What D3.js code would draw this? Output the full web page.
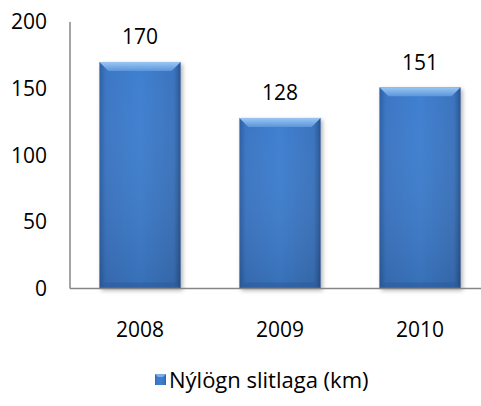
<!DOCTYPE html>
<html>
<head>
<meta charset="utf-8">
<script src="https://cdn.jsdelivr.net/npm/d3@7"></script>
<style>
  body { margin: 0; background: #fff; }
  text { font-family: "Open Sans", Lato, sans-serif; fill: #000; }
</style>
</head>
<body>
<div id="graph"></div>
<script>
var years = ['2008', '2009', '2010']
var values = [170, 128, 151]
var yTicks = [0, 50, 100, 150, 200]
var seriesName = 'Nýlögn slitlaga (km)'

var W = 481, H = 406
var svg = d3.select('#graph').append('svg')
    .attr('width', W).attr('height', H)

var x = d3.scaleBand().domain(years).range([70, 490])
    .paddingInner(0.42).paddingOuter(0.21)
var y = d3.scaleLinear().domain([0, 200]).range([288.5, 22])

var defs = svg.append('defs')
var g1 = defs.append('linearGradient').attr('id', 'barGrad')
    .attr('x1', 0).attr('x2', 1).attr('y1', 0).attr('y2', 0)
g1.append('stop').attr('offset', '0%').attr('stop-color', '#2c5ea3')
g1.append('stop').attr('offset', '8%').attr('stop-color', '#3b76c4')
g1.append('stop').attr('offset', '50%').attr('stop-color', '#3f7fd0')
g1.append('stop').attr('offset', '92%').attr('stop-color', '#3a73bd')
g1.append('stop').attr('offset', '100%').attr('stop-color', '#285391')

var g2 = defs.append('linearGradient').attr('id', 'vGrad')
    .attr('x1', 0).attr('x2', 0).attr('y1', 0).attr('y2', 1)
g2.append('stop').attr('offset', '0%').attr('stop-color', '#fff').attr('stop-opacity', 0)
g2.append('stop').attr('offset', '100%').attr('stop-color', '#000').attr('stop-opacity', 0.12)

var g3 = defs.append('linearGradient').attr('id', 'topGrad')
    .attr('x1', 0).attr('x2', 0).attr('y1', 0).attr('y2', 1)
g3.append('stop').attr('offset', '0%').attr('stop-color', '#9cc6f2')
g3.append('stop').attr('offset', '100%').attr('stop-color', '#5a96dc')

var sh = defs.append('filter').attr('id', 'shadow')
    .attr('x', '-20%').attr('y', '-10%').attr('width', '140%').attr('height', '120%')
sh.append('feDropShadow').attr('dx', 2).attr('dy', 2).attr('stdDeviation', 2)
    .attr('flood-color', '#000').attr('flood-opacity', 0.3)

// axes
svg.append('line')
    .attr('x1', 70).attr('x2', 70).attr('y1', y(200)).attr('y2', y(0))
    .attr('stroke', '#868686').attr('stroke-width', 1.5)

svg.selectAll('text.ytick').data(yTicks).enter().append('text')
    .attr('class', 'ytick')
    .attr('x', 47).attr('y', function(d){ return y(d) })
    .attr('dy', '.35em').attr('text-anchor', 'end')
    .style('font-size', '21px')
    .text(function(d){ return d })

// bars
var bars = svg.selectAll('g.bar').data(values).enter().append('g')
    .attr('class', 'bar')

bars.append('rect')
    .attr('x', function(d, i){ return x(years[i]) })
    .attr('y', function(d){ return y(d) })
    .attr('width', x.bandwidth())
    .attr('height', function(d){ return y(0) - y(d) })
    .attr('fill', 'url(#barGrad)')
    .attr('filter', 'url(#shadow)')

bars.append('rect')
    .attr('x', function(d, i){ return x(years[i]) })
    .attr('y', function(d){ return y(d) })
    .attr('width', x.bandwidth())
    .attr('height', function(d){ return y(0) - y(d) })
    .attr('fill', 'url(#vGrad)')

// top bevel
bars.append('path')
    .attr('d', function(d, i){
      var x0 = x(years[i]), x1 = x0 + x.bandwidth(), t = y(d), b = 9
      return 'M' + x0 + ',' + t + 'L' + x1 + ',' + t + 'L' + (x1 - b) + ',' + (t + b) +
        'L' + (x0 + b) + ',' + (t + b) + 'Z'
    })
    .attr('fill', 'url(#topGrad)')

// bottom bevel
bars.append('path')
    .attr('d', function(d, i){
      var x0 = x(years[i]), x1 = x0 + x.bandwidth(), bt = y(0), b = 6
      return 'M' + x0 + ',' + bt + 'L' + x1 + ',' + bt + 'L' + (x1 - b) + ',' + (bt - b) +
        'L' + (x0 + b) + ',' + (bt - b) + 'Z'
    })
    .attr('fill', '#2d5c9c').attr('opacity', 0.6)

bars.append('text')
    .attr('x', function(d, i){ return x(years[i]) + x.bandwidth() / 2 })
    .attr('y', function(d){ return y(d) - 25 })
    .attr('dy', '.35em').attr('text-anchor', 'middle')
    .style('font-size', '21px')
    .text(function(d){ return d })

svg.append('line')
    .attr('x1', 70).attr('x2', W).attr('y1', y(0)).attr('y2', y(0))
    .attr('stroke', '#868686').attr('stroke-width', 1.5)

svg.selectAll('text.xtick').data(years).enter().append('text')
    .attr('class', 'xtick')
    .attr('x', function(d){ return x(d) + x.bandwidth() / 2 })
    .attr('y', 330).attr('dy', '.35em').attr('text-anchor', 'middle')
    .style('font-size', '21px')
    .text(function(d){ return d })

// legend
var legend = svg.append('g').attr('transform', 'translate(155,374)')
legend.append('rect')
    .attr('width', 11).attr('height', 11)
    .attr('fill', 'url(#barGrad)')
legend.append('path')
    .attr('d', 'M0,0L11,0L8,3L3,3Z').attr('fill', '#7aaee8')
legend.append('text')
    .attr('x', 14).attr('y', 6).attr('dy', '.35em')
    .style('font-size', '22px')
    .text(seriesName)
</script>
</body>
</html>
